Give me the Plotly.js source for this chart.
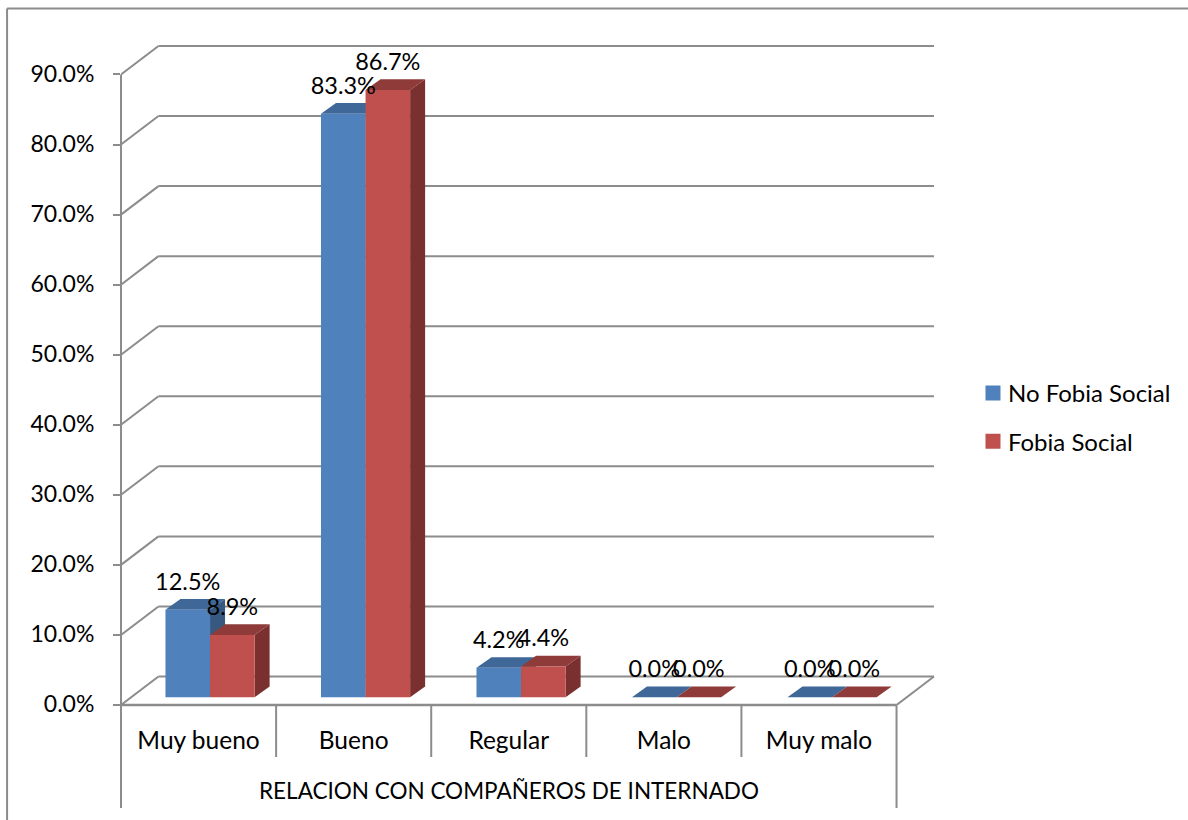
<!DOCTYPE html>
<html>
<head>
<meta charset="utf-8">
<script src="https://cdn.plot.ly/plotly-3.0.1.min.js"></script>
<style>html,body{margin:0;padding:0;background:#fff}#c{width:1188px;height:820px}</style>
</head>
<body>
<div id="c"></div>
<script>
const categories = ['Muy bueno', 'Bueno', 'Regular', 'Malo', 'Muy malo'];
const noFobia = [12.5, 83.3, 4.2, 0, 0];
const fobia = [8.9, 86.7, 4.4, 0, 0];
const yTicks = [0, 10, 20, 30, 40, 50, 60, 70, 80, 90];
const groupTitle = 'RELACION CON COMPAÑEROS DE INTERNADO';

// layout frame in pixels
const W = 1188, H = 820, L = 120.5, R = 945, T = 40, B = 705;
const pxX = 155.2, pxY = 7.006;
const FONT = 'Lato, "Open Sans", sans-serif';
const INK = '#000000', GRID = '#8c8c8c';
const BLUE = '#4F81BD', RED = '#C0504D';
const BLUE_TOP = '#3F6797', BLUE_SIDE = '#37587F', RED_TOP = '#8E3B39', RED_SIDE = '#79302E';

// depth geometry in data units
const wallDx = 37.5 / pxX, wallDy = 28.5 / pxY;
const barDx = 15 / pxX, barDy = 10.7 / pxY;
const floorY = 7.7 / pxY;
const barW = 44.6 / pxX;
const slot = 155.6 / pxX;
const firstEdge = (165 - L) / pxX;

const px2paperX = p => (p - L) / (R - L);
const px2paperY = p => (B - p) / (B - T);

const shapes = [];
const line = (x0, y0, x1, y1, xref, yref, w) => shapes.push({
  type: 'line', x0, y0, x1, y1, xref, yref, layer: 'below',
  line: {color: GRID, width: w === undefined ? 2 : w}
});
// chart frame
line(px2paperX(6.5), px2paperY(8.5), px2paperX(W + 2), px2paperY(8.5), 'paper', 'paper');
line(px2paperX(6.5), px2paperY(8.5), px2paperX(6.5), px2paperY(H + 2), 'paper', 'paper');
// back wall grid and left side wall
yTicks.forEach(t => {
  line(wallDx, t + wallDy, 5 + wallDx, t + wallDy, 'x', 'y');
  line(0, t, wallDx, t + wallDy, 'x', 'y');
});
// floor
line(5, 0, 5 + wallDx, wallDy, 'x', 'y');
line(0, 0, 5, 0, 'x', 'paper', 2.5);
// value axis line + outer category divider
line(0, px2paperY(808), 0, 90 / (B - T) * pxY, 'paper', 'paper');
line(5, px2paperY(808), 5, 0, 'x', 'paper');
[1, 2, 3, 4].forEach(i => line(i, px2paperY(757), i, 0, 'x', 'paper'));

// bars' depth faces, computed from the series
const faces = (vals, col, top, side) => vals.forEach((v, i) => {
  const x0 = firstEdge + i * slot + col * barW, x1 = x0 + barW;
  const yT = floorY + v, yB = floorY;
  const poly = (pts, c) => shapes.push({
    type: 'path', xref: 'x', yref: 'y', layer: 'below', line: {width: 0}, fillcolor: c,
    path: 'M' + pts.map(p => p[0] + ',' + p[1]).join('L') + 'Z'
  });
  if (v > 0) poly([[x1, yB], [x1 + barDx, yB + barDy], [x1 + barDx, yT + barDy], [x1, yT]], side);
  poly([[x0, yT], [x1, yT], [x1 + barDx, yT + barDy], [x0 + barDx, yT + barDy]], top);
});
faces(noFobia, 0, BLUE_TOP, BLUE_SIDE);
faces(fobia, 1, RED_TOP, RED_SIDE);

const xPos = col => categories.map((c, i) => firstEdge + i * slot + col * barW);
const barTrace = (name, vals, col, color) => ({
  type: 'bar', name, x: xPos(col), y: vals, base: floorY, width: barW, offset: 0,
  marker: {color, line: {width: 0}}, showlegend: false, hoverinfo: 'skip', cliponaxis: false
});
const legendTrace = (name, color) => ({
  type: 'bar', name, x: [null], y: [null], legendgroup: name,
  marker: {color, line: {color, width: 3}}, hoverinfo: 'skip'
});
const labelTrace = (vals, col) => ({
  type: 'scatter', mode: 'text', showlegend: false, hoverinfo: 'skip', cliponaxis: false,
  x: xPos(col).map(x => x + barW / 2),
  y: vals.map(v => v + floorY + 26 / pxY),
  text: vals.map(v => v.toFixed(1) + '%'),
  textposition: 'middle center',
  textfont: {family: FONT, size: 23.5, color: INK}
});

const data = [
  barTrace('No Fobia Social', noFobia, 0, BLUE),
  barTrace('Fobia Social', fobia, 1, RED),
  legendTrace('No Fobia Social', BLUE),
  legendTrace('Fobia Social', RED),
  labelTrace(noFobia, 0),
  labelTrace(fobia, 1)
];

const layout = {
  width: W, height: H,
  margin: {l: L, r: W - R, t: T, b: H - B, pad: 0, autoexpand: false},
  paper_bgcolor: '#fff', plot_bgcolor: 'rgba(0,0,0,0)',
  font: {family: FONT, size: 23, color: INK},
  barmode: 'overlay',
  showlegend: true,
  legend: {
    x: px2paperX(973), xanchor: 'left', y: px2paperY(417.5), yanchor: 'middle',
    tracegroupgap: 14, traceorder: 'grouped', bgcolor: 'rgba(0,0,0,0)',
    font: {family: FONT, size: 24, color: INK}, itemclick: false, itemdoubleclick: false
  },
  xaxis: {
    range: [0, (R - L) / pxX], tickmode: 'array',
    tickvals: categories.map((c, i) => i + 0.5), ticktext: categories,
    showgrid: false, zeroline: false, showline: false, ticks: '',
    ticklabelstandoff: 18, tickfont: {family: FONT, size: 24.5, color: INK}
  },
  yaxis: {
    range: [0, (B - T) / pxY], tickmode: 'array',
    tickvals: yTicks, ticktext: yTicks.map(t => t.toFixed(1) + '%'),
    showgrid: false, zeroline: false, showline: false,
    ticks: 'outside', ticklen: 7, tickwidth: 2, tickcolor: GRID,
    ticklabelstandoff: 14, ticklabelshift: -1, tickfont: {family: FONT, size: 23, color: INK}
  },
  shapes,
  annotations: [{
    text: groupTitle, showarrow: false, xref: 'x', yref: 'paper',
    x: 2.5, y: px2paperY(790), xanchor: 'center', yanchor: 'middle',
    font: {family: FONT, size: 22.5, color: INK}
  }]
};
Plotly.newPlot('c', data, layout, {displayModeBar: false, responsive: false}).then(gd => {
  // the reference's legend text sits closer to its swatch than Plotly's minimum item width allows
  gd.querySelectorAll('.legendtext').forEach(t => {
    t.setAttribute('x', parseFloat(t.getAttribute('x')) - 5);
  });
});
</script>
</body>
</html>
